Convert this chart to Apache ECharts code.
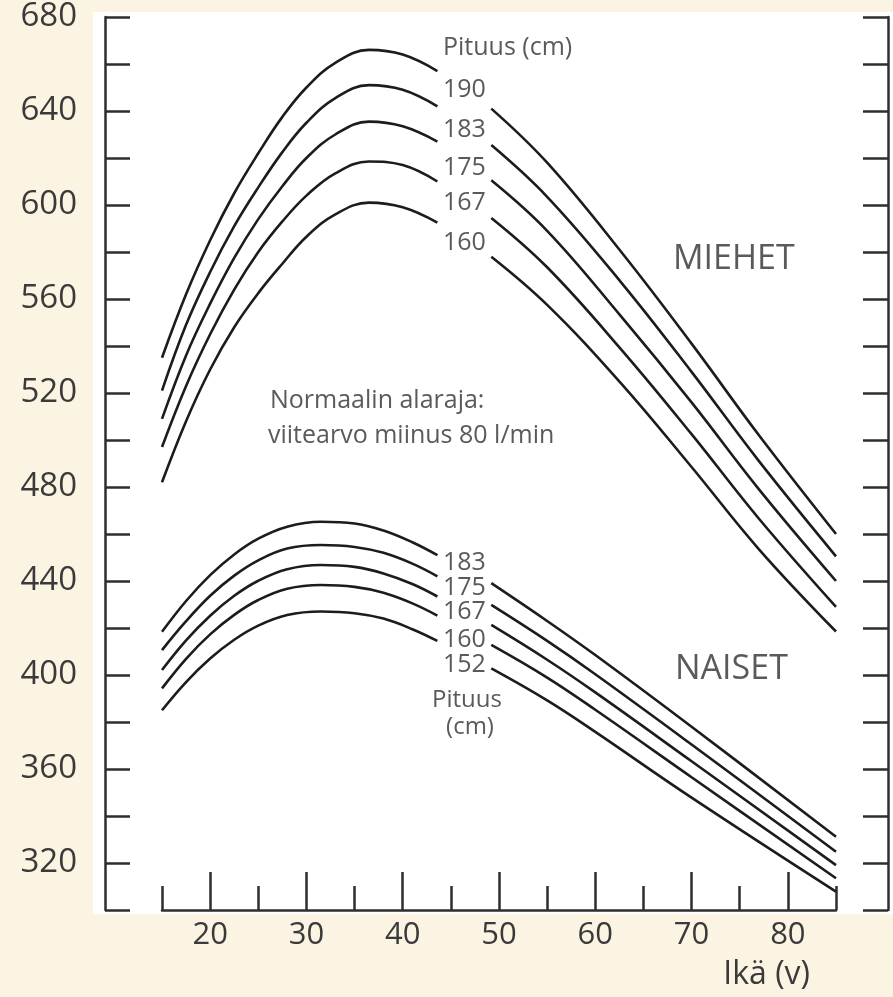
<!DOCTYPE html>
<html>
<head>
<meta charset="utf-8">
<script src="https://cdn.jsdelivr.net/npm/echarts@6.0.0/dist/echarts.min.js"></script>
<style>
  html, body { margin: 0; padding: 0; background: #fcf4e3; }
  #main { width: 893px; height: 997px; }
</style>
</head>
<body>
<div id="main"></div>
<script>
// ikä (v) - x positions of the read points, gap where the height labels sit
var menAgesLeft = [15, 17.5, 20, 22.5, 25, 27.5, 30, 33, 36.5, 40, 43.6];
var menAgesRight = [49.2, 55, 62.7, 70, 77, 85];
var womenAgesLeft = [15, 17.5, 20, 22.5, 25, 28, 31.5, 35, 38, 41, 43.6];
var womenAgesRight = [49.2, 55, 60, 70, 85];

// miehet (l/min)
var men190L = [535, 562, 585, 605, 622, 637.5, 650, 660.5, 666, 664, 657];
var men190R = [641, 618, 580, 541, 502, 460];
var men183L = [521, 549, 571.5, 591, 607.5, 622.5, 635, 645.5, 651, 649, 642];
var men183R = [625.5, 603.5, 567, 529, 491, 450.5];
var men175L = [509, 536, 558, 577.5, 594, 608, 620, 630, 635.5, 633.5, 627];
var men175R = [610.5, 589, 552.5, 516, 479, 440];
var men167L = [497, 523, 545, 564, 580, 593, 604, 613.5, 618.5, 617, 610];
var men167R = [594.5, 573.5, 538.5, 502.5, 466.5, 429];
var men160L = [482, 508, 530, 548, 562.5, 575, 586.5, 596, 601, 599, 592.5];
var men160R = [578, 557.5, 524, 488.5, 453.5, 418.5];

// naiset (l/min)
var women183L = [418.4, 431.5, 442.5, 451.3, 458, 463.1, 465.2, 464.5, 461.5, 456.5, 451];
var women183R = [439.1, 423, 408.5, 378, 331.2];
var women175L = [410.6, 422.9, 433.7, 442.3, 448.8, 453.8, 455.3, 454.5, 452, 447.4, 442];
var women175R = [429.8, 414.5, 400.3, 370.4, 324.8];
var women167L = [402.1, 414.7, 425.2, 433.7, 440.1, 445, 446.8, 446, 443.2, 438.7, 433.4];
var women167R = [421.3, 406.5, 392.6, 363.3, 319.1];
var women160L = [394.3, 406.9, 417.3, 425.6, 431.9, 436.7, 438.3, 437.5, 435, 430.5, 425.3];
var women160R = [412.8, 398.9, 385.2, 356.5, 313.5];
var women152L = [385, 397, 407, 415, 421, 425.5, 427, 426.3, 424, 419.5, 414.5];
var women152R = [402.8, 389.2, 375.8, 347.8, 307.8];

// tick labels
var yLabels = [320, 360, 400, 440, 480, 520, 560, 600, 640, 680];
var xMajor = [20, 30, 40, 50, 60, 70, 80];
var xMinor = [15, 25, 35, 45, 55, 65, 75, 85];

var menHeights = ['190', '183', '175', '167', '160'];
var womenHeights = ['183', '175', '167', '160', '152'];

var lineColor = '#1c1c1c';
var axisColor = '#2e2e2e';
var textColor = '#5a5a5a';
var fontName = '"Open Sans", "Noto Sans", sans-serif';

function pairs(ages, vals) {
  return ages.map(function (a, i) { return [a, vals[i]]; });
}

function curve(name, agesL, valsL, agesR, valsR) {
  // '-' breaks the line where the label is written
  var data = pairs(agesL, valsL).concat([[46.4, '-']]).concat(pairs(agesR, valsR));
  return {
    name: name,
    type: 'line',
    data: data,
    smooth: 0.4,
    connectNulls: false,
    showSymbol: false,
    silent: true,
    lineStyle: { color: lineColor, width: 2.6 },
    z: 5
  };
}

var series = [
  curve('M190', menAgesLeft, men190L, menAgesRight, men190R),
  curve('M183', menAgesLeft, men183L, menAgesRight, men183R),
  curve('M175', menAgesLeft, men175L, menAgesRight, men175R),
  curve('M167', menAgesLeft, men167L, menAgesRight, men167R),
  curve('M160', menAgesLeft, men160L, menAgesRight, men160R),
  curve('N183', womenAgesLeft, women183L, womenAgesRight, women183R),
  curve('N175', womenAgesLeft, women175L, womenAgesRight, women175R),
  curve('N167', womenAgesLeft, women167L, womenAgesRight, women167R),
  curve('N160', womenAgesLeft, women160L, womenAgesRight, women160R),
  curve('N152', womenAgesLeft, women152L, womenAgesRight, women152R)
];

// annotation texts
var texts = [];
function addText(str, x, y, size, align, color) {
  texts.push({
    type: 'text',
    x: x,
    y: y,
    z: 20,
    style: {
      text: str,
      fill: color || textColor,
      font: size + 'px ' + fontName,
      textAlign: align || 'left',
      textVerticalAlign: 'middle'
    }
  });
}
addText('Pituus (cm)', 443, 48, 25);
var menLabelY = [90, 130, 168, 203, 243];
menHeights.forEach(function (h, i) { addText(h, 443, menLabelY[i], 25); });
var womenLabelY = [563, 588, 612, 640, 665];
womenHeights.forEach(function (h, i) { addText(h, 443, womenLabelY[i], 25); });
addText('Pituus', 467, 700, 24, 'center');
addText('(cm)', 470, 727, 24, 'center');
addText('MIEHET', 673, 259, 34);
addText('NAISET', 675, 669, 34);
addText('Normaalin alaraja:', 270, 401, 25);
addText('viitearvo miinus 80 l/min', 268, 436, 25);
addText('Ikä (v)', 810, 975, 32, 'right', '#3a3a3a');

var chart = echarts.init(document.getElementById('main'));

chart.setOption({
  backgroundColor: '#fcf4e3',
  animation: false,
  textStyle: { fontFamily: fontName },
  grid: {
    left: 162,
    right: 57,
    top: 17,
    bottom: 87,
    containLabel: false
  },
  graphic: [{
    type: 'rect',
    shape: { x: 93, y: 12, width: 800, height: 902 },
    style: { fill: '#ffffff' },
    z: -10
  }].concat(texts),
  xAxis: [{
    type: 'value',
    min: 15,
    max: 85,
    position: 'bottom',
    splitLine: { show: false },
    axisLine: { show: true, lineStyle: { color: axisColor, width: 2.5 } },
    axisTick: {
      show: true,
      inside: true,
      length: 38,
      customValues: xMajor,
      lineStyle: { color: axisColor, width: 2.5 }
    },
    axisLabel: {
      customValues: xMajor,
      color: '#3a3a3a',
      fontSize: 31,
      margin: 10,
      fontFamily: fontName
    }
  }, {
    type: 'value',
    min: 15,
    max: 85,
    position: 'bottom',
    splitLine: { show: false },
    axisLine: { show: false },
    axisTick: {
      show: true,
      inside: true,
      length: 24,
      customValues: xMinor,
      lineStyle: { color: axisColor, width: 2.5 }
    },
    axisLabel: { show: false }
  }],
  yAxis: [{
    type: 'value',
    min: 300,
    max: 680,
    interval: 20,
    position: 'left',
    offset: 57,
    splitLine: { show: false },
    axisLine: { show: true, lineStyle: { color: axisColor, width: 2.5 } },
    axisTick: {
      show: true,
      inside: true,
      length: 25,
      lineStyle: { color: axisColor, width: 2.5 }
    },
    axisLabel: {
      customValues: yLabels,
      color: '#3a3a3a',
      fontSize: 33,
      margin: 28,
      fontFamily: fontName
    }
  }, {
    type: 'value',
    min: 300,
    max: 680,
    interval: 20,
    position: 'right',
    offset: 52,
    splitLine: { show: false },
    axisLine: { show: true, lineStyle: { color: axisColor, width: 2.5 } },
    axisTick: {
      show: true,
      inside: true,
      length: 25,
      lineStyle: { color: axisColor, width: 2.5 }
    },
    axisLabel: { show: false }
  }],
  series: series
});
</script>
</body>
</html>
